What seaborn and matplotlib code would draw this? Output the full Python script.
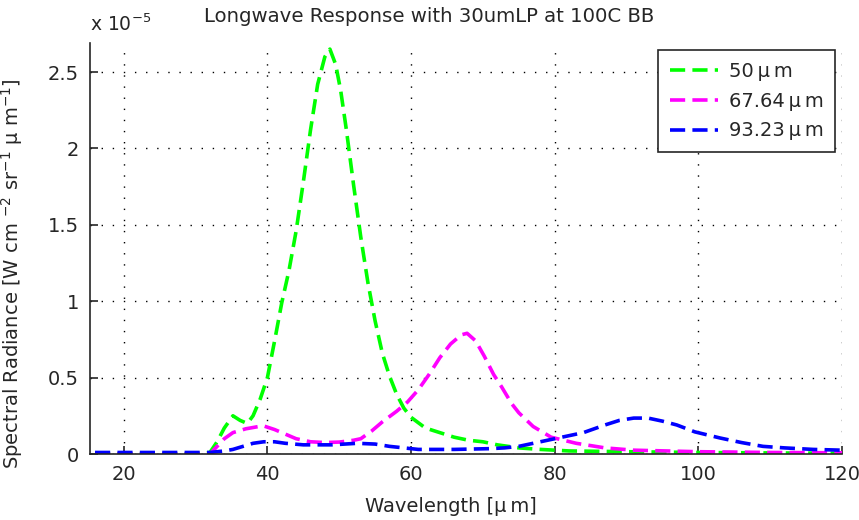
import matplotlib
matplotlib.use("Agg")
import matplotlib.pyplot as plt
import seaborn as sns
import numpy as np
import pandas as pd
from matplotlib.ticker import FuncFormatter, FixedLocator

# ---- data (spectral radiance in units of 1e-5 W cm^-2 sr^-1 um^-1) ----
green_x = [16, 30, 32, 33, 34, 35.2, 36.2, 37.2, 38, 39, 40, 41, 42, 43, 44, 45, 46, 47, 48,
           48.7, 49.5, 50.2, 51, 52, 53, 54, 55, 56, 57, 58, 59, 60, 62, 64, 66, 68, 70, 72,
           75, 78, 82, 90, 100, 110, 120]
green_y = [0.0, 0.0, 0.01, 0.08, 0.17, 0.25, 0.22, 0.20, 0.25, 0.36, 0.50, 0.74, 0.99, 1.20,
           1.46, 1.78, 2.12, 2.42, 2.60, 2.65, 2.55, 2.38, 2.12, 1.76, 1.42, 1.12, 0.87, 0.66,
           0.51, 0.39, 0.30, 0.24, 0.17, 0.14, 0.11, 0.09, 0.08, 0.06, 0.04, 0.03, 0.02, 0.015,
           0.01, 0.007, 0.005]

magenta_x = [16, 32, 33, 34, 35.2, 37, 39.4, 41, 42, 44, 46, 48, 50, 52, 53, 54.5, 56, 58,
             59.5, 61, 62.5, 64, 65.5, 67, 67.8, 69, 70.2, 71.5, 72.6, 74, 75, 77, 79.5, 83,
             87, 91, 100, 110, 120]
magenta_y = [0.0, 0.0, 0.05, 0.10, 0.14, 0.165, 0.185, 0.16, 0.14, 0.10, 0.08, 0.075, 0.078,
             0.09, 0.10, 0.15, 0.21, 0.28, 0.34, 0.42, 0.52, 0.63, 0.72, 0.78, 0.79, 0.74,
             0.64, 0.52, 0.44, 0.33, 0.27, 0.18, 0.11, 0.07, 0.04, 0.025, 0.015, 0.01, 0.008]

blue_x = [16, 32, 34, 35.2, 36.6, 38, 39.5, 41, 42.5, 45, 49, 52.5, 55, 57, 59, 61, 66, 71,
          73, 75, 78, 81, 84, 87, 89, 91, 93, 95, 97, 99.5, 103, 106, 109, 112, 116, 120]
blue_y = [0.01, 0.01, 0.02, 0.03, 0.05, 0.07, 0.08, 0.08, 0.07, 0.06, 0.06, 0.07, 0.065,
          0.05, 0.04, 0.03, 0.03, 0.035, 0.04, 0.05, 0.08, 0.11, 0.14, 0.19, 0.22, 0.235,
          0.235, 0.215, 0.19, 0.145, 0.105, 0.075, 0.05, 0.04, 0.03, 0.025]

series_labels = ["50\u2009\u00b5\u2009m", "67.64\u2009\u00b5\u2009m", "93.23\u2009\u00b5\u2009m"]
series_colors = ["#00ff00", "#ff00ff", "#0000ff"]

x_ticks = [20, 40, 60, 80, 100, 120]
y_ticks = [0, 0.5, 1, 1.5, 2, 2.5]

title_text = "Longwave Response with 30umLP at 100C BB"
xlabel_text = "Wavelength [\u00b5\u2009m]"
ylabel_text = r"Spectral Radiance [W cm $^{-2}$ sr$^{-1}$ $\mu$ m$^{-1}$]"

# ---- style ----
sns.set_theme(style="white")
plt.rcParams["font.family"] = ["DejaVu Sans"]
plt.rcParams["mathtext.fontset"] = "dejavusans"
plt.rcParams["mathtext.default"] = "regular"

W, H = 859, 520
fig = plt.figure(figsize=(W / 100, H / 100), dpi=100)
ax = fig.add_axes([90 / W, 1 - 454 / H, (842 - 90) / W, (454 - 43) / H])

frames = []
for xs, ys, lab in zip([green_x, magenta_x, blue_x], [green_y, magenta_y, blue_y], series_labels):
    frames.append(pd.DataFrame({"x": xs, "y": ys, "series": lab}))
df = pd.concat(frames, ignore_index=True)

for lab, col in zip(series_labels, series_colors):
    sub = df[df["series"] == lab]
    sns.lineplot(data=sub, x="x", y="y", color=col, label=lab, ax=ax,
                 linewidth=2.6, linestyle=(0, (4.2, 2.0)), estimator=None, sort=False)

ax.set_xlim(15.3, 120)
ax.set_ylim(0, 2.69)
ax.xaxis.set_major_locator(FixedLocator(x_ticks))
ax.yaxis.set_major_locator(FixedLocator(y_ticks))
ax.yaxis.set_major_formatter(FuncFormatter(lambda v, p: "%g" % v))
ax.xaxis.set_major_formatter(FuncFormatter(lambda v, p: "%g" % v))

ax.grid(True, color="black", linestyle=(0, (1, 7)), linewidth=1.0)
for s in ["top", "right"]:
    ax.spines[s].set_visible(False)
for s in ["left", "bottom"]:
    ax.spines[s].set_color("#262626")
    ax.spines[s].set_linewidth(1.2)
ax.tick_params(axis="both", direction="in", length=6, width=1.2, color="#262626",
               labelsize=14, labelcolor="#262626", pad=8, left=True, bottom=True)

ax.set_xlabel(xlabel_text, fontsize=14, color="#262626")
ax.xaxis.set_label_coords((451 - 90) / 752, -0.105)
ax.set_ylabel(ylabel_text, fontsize=14, color="#262626")
ax.yaxis.set_label_coords(-0.087, 0.44)

fig.text(429 / W, 1 - 17 / H, title_text, ha="center", va="center", fontsize=14.2, color="#262626")
ax.text(0.0, 1.02, r"x 10$^{-5}$", transform=ax.transAxes, fontsize=13.5,
        color="#262626", ha="left", va="bottom")

leg = ax.legend(loc="upper right", bbox_to_anchor=(0.991, 0.982), fontsize=14,
                frameon=True, fancybox=False, edgecolor="#262626", framealpha=1,
                handlelength=2.5, handletextpad=0.55, borderpad=0.6, labelspacing=0.55,
                borderaxespad=0)
leg.get_frame().set_linewidth(1.2)

fig.savefig("out.png", dpi=100)
